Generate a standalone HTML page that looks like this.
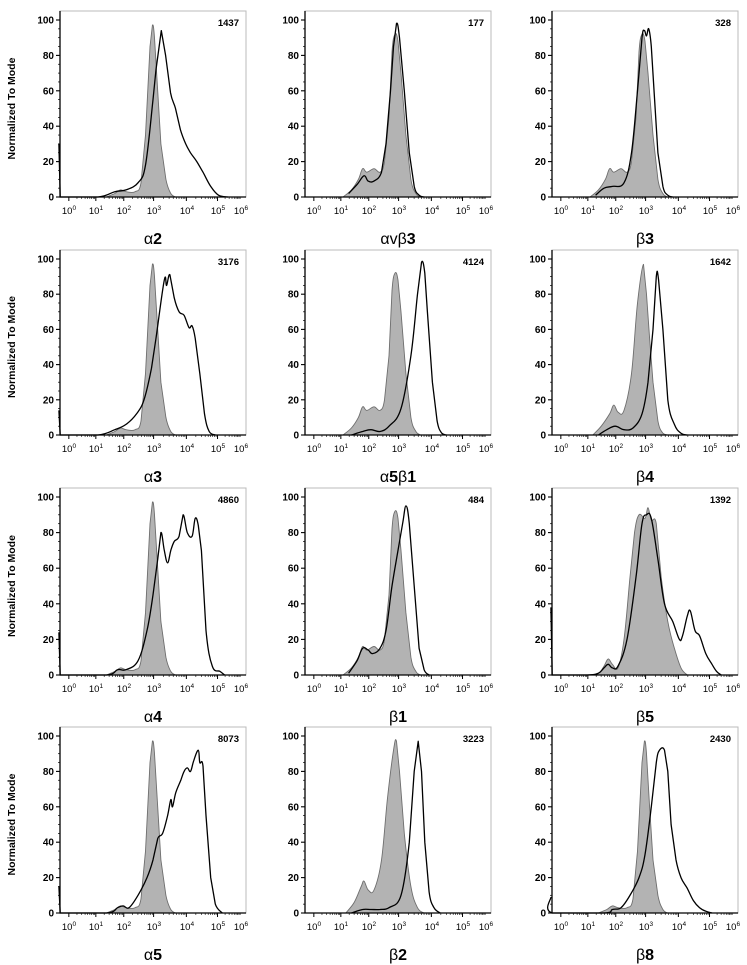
<!DOCTYPE html>
<html><head><meta charset="utf-8"><style>
html,body{margin:0;padding:0;background:#fff;}
svg{display:block;font-family:"Liberation Sans",Arial,sans-serif;}
</style></head><body>
<svg id="chart" width="747" height="965" viewBox="0 0 747 965"></svg>
<script>
// ---- data ----
const panelNames = ["α2","αvβ3","β3","α3","α5β1","β4","α4","β1","β5","α5","β2","β8"];
const panelStats = ["1437","177","328","3176","4124","1642","4860","484","1392","8073","3223","2430"];
const yTickValues = [0,20,40,60,80,100];
const xDecades = [0,1,2,3,4,5,6];

const ctrlA = [[1.3,0],[1.6,2],[1.8,4],[2.0,3],[2.3,3],[2.5,8],[2.65,35],[2.8,85],[2.88,97],[2.95,90],[3.05,60],[3.15,30],[3.3,10],[3.45,2],[3.6,0]];
const ctrlB = [[1.0,0],[1.3,4],[1.55,10],[1.7,16],[1.85,14],[2.1,16],[2.3,14],[2.45,20],[2.6,45],[2.7,82],[2.8,92],[2.9,88],[3.0,70],[3.15,35],[3.3,10],[3.45,2],[3.6,0]];
const ctrlB4 = [[1.1,0],[1.4,5],[1.7,12],[1.85,17],[2.0,13],[2.2,14],[2.45,35],[2.65,75],[2.85,97],[2.95,80],[3.05,55],[3.15,30],[3.3,8],[3.45,1],[3.6,0]];
const ctrlB5 = [[0.9,0],[1.3,1],[1.5,5],[1.65,9],[1.8,6],[2.0,4],[2.2,20],[2.4,55],[2.55,80],[2.7,90],[2.9,88],[3.0,94],[3.1,87],[3.25,85],[3.4,55],[3.6,30],[3.8,15],[4.0,4],[4.2,0]];
const ctrlB2 = [[1.1,0],[1.4,6],[1.65,15],[1.75,18],[1.9,13],[2.1,13],[2.35,30],[2.55,65],[2.75,92],[2.85,97],[2.95,80],[3.1,45],[3.3,15],[3.5,3],[3.7,0]];

const openA2 = [[-0.5,30],[-0.4,0],[1.0,0],[1.6,3],[2.0,4],[2.4,8],[2.65,18],[2.9,55],[3.0,72],[3.16,94],[3.29,80],[3.44,59],[3.59,50],[3.74,38],[3.9,30],[4.05,25],[4.25,20],[4.45,14],[4.7,6],[4.95,1],[5.35,0]];
const openAVB3 = [[1.2,2],[1.5,7],[1.75,12],[1.9,9],[2.1,9],[2.35,14],[2.5,30],[2.65,60],[2.75,85],[2.85,98],[2.95,90],[3.1,60],[3.25,25],[3.4,6],[3.55,1],[3.7,0]];
const openB3 = [[1.2,1],[1.5,5],[1.8,6],[2.2,8],[2.45,25],[2.65,60],[2.8,90],[2.88,94],[2.95,91],[3.02,95],[3.1,85],[3.2,55],[3.3,25],[3.45,6],[3.6,1],[3.75,0]];
const openA3 = [[-0.5,14],[-0.4,0],[1.0,0],[1.6,3],[2.0,6],[2.35,12],[2.6,20],[2.85,38],[3.0,55],[3.25,88],[3.32,85],[3.42,91],[3.55,78],[3.7,70],[3.85,68],[4.0,61],[4.1,62],[4.2,55],[4.35,35],[4.5,12],[4.65,2],[4.85,0]];
const openA5B1 = [[1.3,0],[1.7,2],[2.0,3],[2.3,2],[2.6,5],[3.0,15],[3.3,45],[3.5,80],[3.62,98],[3.72,92],[3.8,70],[3.95,30],[4.1,8],[4.25,1],[4.4,0]];
const openB4 = [[1.3,0],[1.6,3],[1.9,5],[2.2,3],[2.5,4],[2.8,12],[3.0,30],[3.15,60],[3.25,90],[3.32,88],[3.45,60],[3.6,20],[3.8,6],[4.0,1],[4.2,0]];
const openA4 = [[-0.5,24],[-0.4,0],[1.3,0],[1.7,3],[2.0,3],[2.4,8],[2.7,25],[2.9,45],[3.05,65],[3.15,80],[3.25,70],[3.35,63],[3.45,70],[3.55,75],[3.7,78],[3.82,90],[3.95,80],[4.1,78],[4.2,88],[4.3,84],[4.4,70],[4.55,25],[4.75,5],[5.0,2],[5.2,0]];
const openB1 = [[1.2,1],[1.5,8],[1.7,15],[1.9,14],[2.05,12],[2.3,15],[2.5,25],[2.7,50],[2.9,70],[3.05,85],[3.15,95],[3.25,85],[3.4,50],[3.55,15],[3.7,3],[3.85,0]];
const openB5 = [[-0.5,38],[-0.4,0],[0.9,0],[1.3,1],[1.5,4],[1.65,6],[1.8,4],[2.0,5],[2.3,20],[2.6,55],[2.8,85],[2.95,90],[3.1,88],[3.3,65],[3.5,40],[3.75,30],[3.95,20],[4.05,22],[4.2,33],[4.3,36],[4.45,25],[4.6,22],[4.8,12],[5.0,6],[5.2,2],[5.4,0]];
const openA5 = [[-0.5,15],[-0.4,0],[1.3,0],[1.7,3],[1.9,4],[2.1,3],[2.4,10],[2.7,20],[2.9,30],[3.05,42],[3.2,45],[3.35,55],[3.45,64],[3.5,60],[3.6,68],[3.75,75],[3.85,80],[3.95,82],[4.05,80],[4.15,86],[4.3,92],[4.35,85],[4.45,83],[4.55,55],[4.7,20],[4.85,5],[5.1,0]];
const openB2 = [[1.3,0],[1.7,2],[2.0,2],[2.3,2],[2.6,3],[3.0,10],[3.25,40],[3.4,80],[3.52,97],[3.62,80],[3.72,40],[3.85,12],[4.0,3],[4.2,0]];
const openB8 = [[-0.5,9],[-0.4,0],[1.5,0],[1.8,2],[2.1,3],[2.4,10],[2.7,20],[2.9,33],[3.1,60],[3.25,85],[3.35,92],[3.5,92],[3.6,80],[3.7,50],[3.85,30],[4.0,20],[4.2,14],[4.4,7],[4.6,3],[4.8,1],[5.0,0]];

const shadedSeries = [ctrlA,ctrlB,ctrlB,ctrlA,ctrlB,ctrlB4,ctrlA,ctrlB,ctrlB5,ctrlA,ctrlB2,ctrlA];
const openSeries = [openA2,openAVB3,openB3,openA3,openA5B1,openB4,openA4,openB1,openB5,openA5,openB2,openB8];

// ---- layout ----
const NS="http://www.w3.org/2000/svg";
const svg=document.getElementById('chart');
const colLeft=[60,305,552], plotW=186;
const rowY100=[20,259,497,736], rowY0=[197,435,675,913];
const decPos=[11,38,66,96,129,160,183];
function mk(tag,attrs,parent){const e=document.createElementNS(NS,tag);for(const k in attrs)e.setAttribute(k,attrs[k]);(parent||svg).appendChild(e);return e;}
function xScale(left,d){
  if(d<=0) return left+decPos[0]+d*(decPos[1]-decPos[0]);
  if(d>=6) return left+decPos[6]+(d-6)*(decPos[6]-decPos[5]);
  const i=Math.floor(d),f=d-i;return left+decPos[i]+f*(decPos[i+1]-decPos[i]);
}
function yScale(r,v){return rowY0[r]-(rowY0[r]-rowY100[r])*v/100;}
function smooth(pts,ymax){
  let d='M'+pts[0][0].toFixed(1)+','+pts[0][1].toFixed(1);
  for(let i=0;i<pts.length-1;i++){
    const p0=pts[Math.max(i-1,0)],p1=pts[i],p2=pts[i+1],p3=pts[Math.min(i+2,pts.length-1)];
    if(p1[1]>=ymax && p2[1]>=ymax){d+=' L'+p2[0].toFixed(1)+','+p2[1].toFixed(1);continue;}
    if(p2[0]-p1[0]<6 && Math.abs(p2[1]-p1[1])>20){d+=' L'+p2[0].toFixed(1)+','+p2[1].toFixed(1);continue;}
    const t=0.18;
    const c1=[p1[0]+(p2[0]-p0[0])*t,Math.min(ymax,p1[1]+(p2[1]-p0[1])*t)];
    const c2=[p2[0]-(p3[0]-p1[0])*t,Math.min(ymax,p2[1]-(p3[1]-p1[1])*t)];
    d+=' C'+c1[0].toFixed(1)+','+c1[1].toFixed(1)+' '+c2[0].toFixed(1)+','+c2[1].toFixed(1)+' '+p2[0].toFixed(1)+','+p2[1].toFixed(1);
  }
  return d;
}

for(let p=0;p<12;p++){
  const r=Math.floor(p/3),c=p%3,L=colLeft[c],y0=rowY0[r],top=rowY100[r]-9;
  const g=mk('g',{});
  
  
  const box=mk('rect',{x:L,y:top,width:plotW,height:y0-top,fill:'none',stroke:'#bbb','stroke-width':1},g);
  
  
  const sh=shadedSeries[p];
  const shPts=sh.map(pt=>[xScale(L,pt[0]),yScale(r,pt[1])]);
  const sp=mk('path',{d:smooth(shPts,y0)+' Z',fill:'#b3b3b3',stroke:'#6e6e6e','stroke-width':0.9,'stroke-linejoin':'round'},g);
  
  
  const op=openSeries[p];
  const opPts=op.map(pt=>[xScale(L,Math.max(pt[0],-0.45)),yScale(r,pt[1])]);
  const oe=mk('path',{d:smooth(opPts,y0),fill:'none',stroke:'#000','stroke-width':1.3,'stroke-linejoin':'round'},g);
  
  
  const ax=mk('path',{d:'M'+L+','+top+' L'+L+','+y0+' L'+(L+plotW)+','+y0,fill:'none',stroke:'#000','stroke-width':1.3},g);
  
  
  for(let v=0;v<=100;v+=5){
    const yy=yScale(r,v),major=v%20===0;
    mk('line',{x1:L-(major?4:2),x2:L,y1:yy,y2:yy,stroke:'#000','stroke-width':major?1.1:0.7},g);
  }
  yTickValues.forEach(v=>{
    const t=mk('text',{x:L-6,y:yScale(r,v)+3.5,'text-anchor':'end','font-size':10,'font-weight':'bold'},g);
    t.textContent=v;
    
    
  });
  for(let k=0;k<6;k++){for(let m=1;m<10;m++){
    const xx=xScale(L,k+Math.log10(m)-0.08);
    mk('line',{x1:xx,x2:xx,y1:y0,y2:y0+(m===1?4:2),stroke:'#000','stroke-width':m===1?1:0.6},g);
  }}
  xDecades.forEach(k=>{
    const t=mk('text',{x:xScale(L,k)-2,y:y0+17,'text-anchor':'middle','font-size':9.5},g);
    t.textContent='10';
    const s=mk('tspan',{dy:-4,'font-size':6.5},t);s.textContent=k;
    
    
  });
  const st=mk('text',{x:L+plotW-7,y:top+15,'text-anchor':'end','font-size':9.5,'font-weight':'bold'},g);
  st.textContent=panelStats[p];
  
  
  const nm=mk('text',{x:L+93,y:y0+47,'text-anchor':'middle','font-size':16},g);
  for(const ch of panelNames[p]){
    const ts=mk('tspan',/[0-9]/.test(ch)?{'font-weight':'bold'}:{},nm);
    ts.textContent=ch;
  }
  
  
  if(c===0){
    const cy=(rowY0[r]+rowY100[r])/2;
    const yt=mk('text',{x:15,y:cy,'text-anchor':'middle','font-size':10.5,'font-weight':'bold',transform:'rotate(-90 15 '+cy+')'},g);
    yt.textContent='Normalized To Mode';
    
    
  }
}
</script>
</body></html>
